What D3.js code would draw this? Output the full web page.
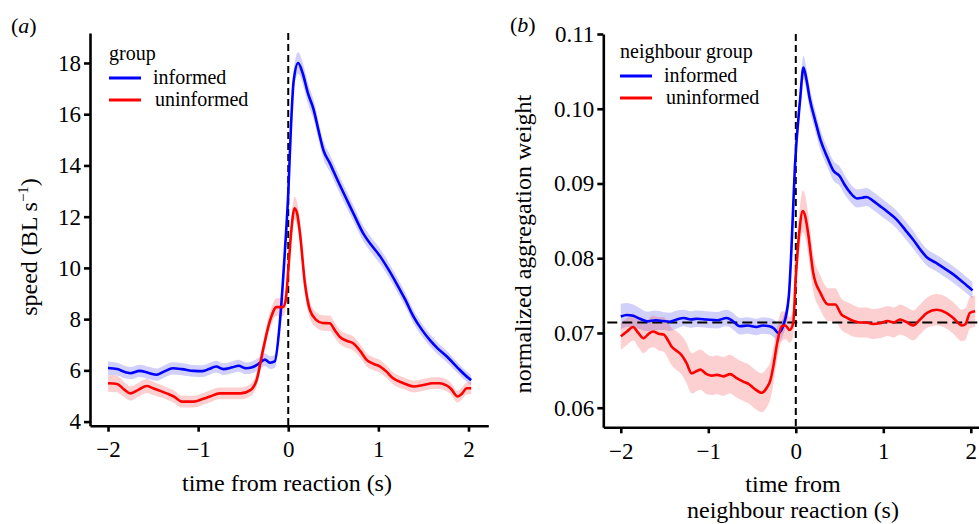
<!DOCTYPE html>
<html>
<head>
<meta charset="utf-8">
<script src="https://cdn.jsdelivr.net/npm/d3@7"></script>
<style>
  html, body { margin: 0; padding: 0; background: #fff; }
  svg { display: block; }
  text { font-family: "Liberation Serif", Tinos, "Times New Roman", Times, serif; fill: #000; }
</style>
</head>
<body>
<svg id="chart" width="979" height="524"></svg>
<script>
// ---------------- DATA ----------------
// Panel (a): speed (BL s^-1) vs time from reaction (s)
const speedInformedT = [-2.00,-1.90,-1.80,-1.75,-1.65,-1.55,-1.46,-1.38,-1.28,-1.18,-1.05,-0.95,-0.88,-0.80,-0.72,-0.62,-0.55,-0.47,-0.40,-0.33,-0.26,-0.20,-0.15,-0.09,-0.04,0.00,0.03,0.06,0.11,0.16,0.22,0.28,0.34,0.39,0.46,0.55,0.65,0.74,0.83,0.92,1.02,1.11,1.20,1.30,1.39,1.48,1.57,1.66,1.76,1.88,2.00,2.03];
const speedInformed  = [6.09,6.05,5.92,5.89,5.98,5.90,5.83,5.95,6.08,6.05,5.98,5.97,6.05,6.15,6.05,6.12,6.18,6.08,6.12,6.25,6.42,6.30,6.35,8.0,10.5,12.9,15.5,17.3,18.0,17.6,16.8,16.2,15.3,14.6,14.1,13.4,12.66,12.0,11.36,10.9,10.45,9.95,9.40,8.75,8.10,7.60,7.19,6.85,6.54,6.10,5.70,5.62];
const speedInformedSE = [0.26,0.25,0.24,0.24,0.24,0.24,0.24,0.24,0.24,0.24,0.23,0.23,0.23,0.23,0.23,0.23,0.23,0.23,0.23,0.24,0.25,0.25,0.26,0.3,0.35,0.38,0.4,0.42,0.42,0.42,0.4,0.38,0.36,0.35,0.34,0.33,0.32,0.31,0.3,0.3,0.3,0.29,0.28,0.27,0.26,0.25,0.24,0.23,0.22,0.21,0.2,0.2];

const speedUninformedT = [-2.00,-1.90,-1.82,-1.75,-1.66,-1.57,-1.50,-1.42,-1.35,-1.27,-1.18,-1.05,-0.95,-0.87,-0.76,-0.65,-0.53,-0.42,-0.35,-0.28,-0.20,-0.13,-0.06,-0.03,0.00,0.03,0.07,0.10,0.13,0.185,0.24,0.31,0.38,0.46,0.52,0.57,0.65,0.72,0.80,0.87,0.95,1.02,1.09,1.16,1.28,1.39,1.50,1.60,1.68,1.75,1.80,1.88,1.93,1.98,2.03];
const speedUninformed  = [5.50,5.47,5.25,5.10,5.25,5.39,5.30,5.20,5.10,4.98,4.78,4.78,4.88,4.98,5.10,5.10,5.10,5.23,5.63,6.80,7.97,8.47,8.47,8.7,9.9,11.3,12.33,12.1,11.36,9.40,8.36,7.97,7.85,7.84,7.55,7.32,7.15,7.06,6.75,6.41,6.25,6.15,5.95,5.70,5.50,5.37,5.43,5.50,5.50,5.42,5.30,4.98,5.10,5.30,5.30];
const speedUninformedSE = [0.33,0.32,0.3,0.28,0.27,0.27,0.26,0.25,0.24,0.24,0.23,0.23,0.23,0.23,0.23,0.23,0.23,0.24,0.26,0.3,0.33,0.35,0.35,0.36,0.38,0.42,0.45,0.45,0.42,0.38,0.33,0.3,0.3,0.3,0.29,0.28,0.28,0.27,0.26,0.26,0.25,0.25,0.24,0.24,0.23,0.23,0.23,0.23,0.23,0.23,0.23,0.23,0.23,0.23,0.23];

// Panel (b): normalized aggregation weight vs time from neighbour reaction (s)
const weightInformedT = [-2.00,-1.93,-1.86,-1.78,-1.70,-1.60,-1.52,-1.44,-1.36,-1.28,-1.20,-1.13,-1.02,-0.90,-0.79,-0.72,-0.64,-0.55,-0.45,-0.38,-0.30,-0.25,-0.20,-0.14,-0.08,-0.05,-0.01,0.05,0.087,0.12,0.16,0.22,0.28,0.36,0.43,0.50,0.56,0.62,0.70,0.76,0.81,0.88,0.96,1.05,1.15,1.25,1.34,1.42,1.50,1.60,1.69,1.78,1.88,1.95,2.02];
const weightInformed  = [0.0722,0.0724,0.0723,0.0719,0.07155,0.0717,0.0716,0.0715,0.0718,0.0720,0.0718,0.0719,0.0718,0.0717,0.0720,0.0716,0.0709,0.0710,0.0708,0.0710,0.0709,0.0706,0.0700,0.0711,0.0749,0.0812,0.0923,0.1013,0.1055,0.1040,0.1013,0.0985,0.0959,0.0935,0.0917,0.0910,0.0898,0.0888,0.0880,0.0881,0.0882,0.0877,0.0870,0.0862,0.0852,0.0838,0.0825,0.0812,0.0801,0.0794,0.0787,0.0780,0.0771,0.0764,0.0757];
const weightInformedSE = [0.0017,0.0016,0.0015,0.0014,0.0013,0.0013,0.0012,0.0012,0.0012,0.0011,0.0011,0.0011,0.0011,0.0011,0.0011,0.0011,0.0011,0.0011,0.0011,0.0011,0.0011,0.0012,0.0012,0.0012,0.0013,0.0014,0.0015,0.0015,0.0016,0.0015,0.0015,0.0014,0.0014,0.0013,0.0013,0.0013,0.0013,0.0012,0.0012,0.0012,0.0012,0.0012,0.0012,0.0012,0.0012,0.0012,0.0012,0.0011,0.0011,0.0011,0.0011,0.0011,0.0011,0.0011,0.0011];

const weightUninformedT = [-2.00,-1.93,-1.86,-1.80,-1.74,-1.68,-1.63,-1.57,-1.51,-1.46,-1.42,-1.36,-1.31,-1.25,-1.19,-1.09,-1.02,-0.96,-0.90,-0.83,-0.75,-0.68,-0.60,-0.53,-0.48,-0.39,-0.33,-0.29,-0.25,-0.22,-0.16,-0.12,-0.07,-0.03,0.00,0.04,0.08,0.11,0.14,0.20,0.28,0.37,0.45,0.52,0.59,0.66,0.73,0.81,0.88,0.96,1.05,1.12,1.19,1.26,1.34,1.42,1.50,1.61,1.72,1.80,1.90,1.94,1.99,2.05];
const weightUninformed  = [0.06955,0.0702,0.0708,0.0700,0.0693,0.0699,0.0702,0.0699,0.0698,0.0690,0.0682,0.0676,0.0671,0.0660,0.0646,0.0651,0.0645,0.0643,0.0644,0.0642,0.0645,0.0640,0.0635,0.0631,0.0626,0.0620,0.0627,0.0637,0.0660,0.0682,0.0709,0.0710,0.0704,0.0713,0.0775,0.0835,0.0863,0.0855,0.0834,0.0780,0.0754,0.0738,0.0738,0.0725,0.0720,0.0716,0.0714,0.0714,0.0712,0.0713,0.0716,0.0714,0.0718,0.0715,0.0710,0.0718,0.0727,0.0731,0.0727,0.0720,0.0710,0.0712,0.0727,0.0729];
const weightUninformedSE = [0.0018,0.0018,0.0018,0.0019,0.0020,0.0020,0.0021,0.0022,0.0023,0.0024,0.0025,0.0026,0.0026,0.0027,0.0027,0.0027,0.0027,0.0026,0.0026,0.0026,0.0026,0.0026,0.0026,0.0026,0.0026,0.0026,0.0026,0.0025,0.0024,0.0022,0.0020,0.0018,0.0017,0.0018,0.0022,0.0025,0.0028,0.0028,0.0027,0.0025,0.0023,0.0022,0.0022,0.0021,0.0021,0.0021,0.0020,0.0020,0.0020,0.0020,0.0020,0.0020,0.0020,0.0020,0.0020,0.0020,0.0020,0.0021,0.0021,0.0021,0.0021,0.0021,0.0021,0.0021];

const xTicks = [-2, -1, 0, 1, 2];
const speedTicks = [4, 6, 8, 10, 12, 14, 16, 18];
const weightTicks = [0.06, 0.07, 0.08, 0.09, 0.10, 0.11];
const weightReference = 0.0714;   // horizontal dashed reference line (panel b)
const groupLabels = ["informed", "uninformed"];
const groupColors = ["#0000ff", "#ff0000"];
const ribbonColors = ["rgba(40,40,235,0.22)", "rgba(240,40,40,0.22)"];

// ---------------- DRAWING ----------------
const FONT = '"Liberation Serif", Tinos, "Times New Roman", Times, serif';
const svg = d3.select("#chart");

function zip(t, v, se) { return t.map((d, i) => ({ t: d, v: v[i], se: se[i] })); }

function drawPanel(cfg) {
  const x = d3.scaleLinear().domain(cfg.xDomain).range(cfg.xRange);
  const y = d3.scaleLinear().domain(cfg.yDomain).range(cfg.yRange);
  const g = svg.append("g");

  // ribbons
  cfg.series.forEach((s, i) => {
    const area = d3.area().curve(d3.curveMonotoneX)
      .x(d => x(d.t)).y0(d => y(d.v - d.se)).y1(d => y(d.v + d.se));
    g.append("path").datum(s).attr("d", area).attr("fill", ribbonColors[i]).attr("stroke", "none");
  });

  // reference lines
  g.append("line")
    .attr("x1", x(0)).attr("x2", x(0))
    .attr("y1", cfg.yRange[1]).attr("y2", cfg.yRange[0])
    .attr("stroke", "#000").attr("stroke-width", 2).attr("stroke-dasharray", "7,4");
  if (cfg.hRef !== undefined) {
    g.append("line")
      .attr("x1", cfg.xRange[0] + 4).attr("x2", 979)
      .attr("y1", y(cfg.hRef)).attr("y2", y(cfg.hRef))
      .attr("stroke", "#000").attr("stroke-width", 2).attr("stroke-dasharray", "10,5");
  }

  // lines
  cfg.series.forEach((s, i) => {
    const line = d3.line().curve(d3.curveMonotoneX).x(d => x(d.t)).y(d => y(d.v));
    g.append("path").datum(s).attr("d", line).attr("fill", "none")
      .attr("stroke", groupColors[i]).attr("stroke-width", 2.6).attr("stroke-linejoin", "round");
  });

  // axes
  const xAxis = d3.axisBottom(x).tickValues(xTicks).tickSize(6).tickSizeOuter(0).tickPadding(9)
    .tickFormat(d3.format("d"));
  const gx = g.append("g").attr("transform", `translate(0,${cfg.yRange[0]})`).call(xAxis);
  const yAxis = d3.axisLeft(y).tickValues(cfg.yTicks).tickSize(6).tickSizeOuter(0).tickPadding(3)
    .tickFormat(cfg.yFormat);
  const gy = g.append("g").attr("transform", `translate(${cfg.xRange[0]},0)`).call(yAxis);
  [gx, gy].forEach(a => {
    a.attr("font-family", FONT).attr("font-size", 23);
    a.select(".domain").attr("stroke", "#000").attr("stroke-width", 2.6);
    a.selectAll(".tick line").attr("stroke", "#000").attr("stroke-width", 2.6);
    a.selectAll(".tick text").style("font-family", FONT).style("font-size", "23px").attr("fill", "#000");
  });

  // legend
  const L = cfg.legend;
  g.append("text").attr("x", L.x).attr("y", L.titleY).style("font-size", "20px").text(L.title);
  groupLabels.forEach((lab, i) => {
    const ly = L.firstY + i * 22;
    g.append("line").attr("x1", L.x).attr("x2", L.x + 32).attr("y1", ly).attr("y2", ly)
      .attr("stroke", groupColors[i]).attr("stroke-width", 3);
    g.append("text").attr("x", L.x + 44 + (i === 1 ? 2 : 0)).attr("y", ly + 6).style("font-size", "20px").text(lab);
  });

  // panel tag
  const tag = g.append("text").attr("x", cfg.tag.x).attr("y", cfg.tag.y).style("font-size", "22px");
  tag.append("tspan").text("(");
  tag.append("tspan").style("font-style", "italic").text(cfg.tag.letter);
  tag.append("tspan").text(")");
  return g;
}

drawPanel({
  xDomain: [-2.2, 2.22], xRange: [90, 488.3],
  yDomain: [3.84, 19.17], yRange: [425.7, 33],
  yTicks: speedTicks, yFormat: d3.format("d"),
  series: [zip(speedInformedT, speedInformed, speedInformedSE), zip(speedUninformedT, speedUninformed, speedUninformedSE)],
  legend: { x: 109, title: "group", titleY: 60, firstY: 78 },
  tag: { x: 11, y: 33, letter: "a" }
});

drawPanel({
  xDomain: [-2.2, 2.2], xRange: [603.3, 988.3],
  yDomain: [0.05738, 0.11], yRange: [427.3, 34],
  yTicks: weightTicks, yFormat: d3.format(".2f"),
  series: [zip(weightInformedT, weightInformed, weightInformedSE), zip(weightUninformedT, weightUninformed, weightUninformedSE)],
  hRef: weightReference,
  legend: { x: 620, title: "neighbour group", titleY: 58, firstY: 76 },
  tag: { x: 510, y: 32, letter: "b" }
});

// axis titles
const yA = svg.append("text").attr("transform", "translate(37,247) rotate(-90)")
  .attr("text-anchor", "middle").style("font-size", "24px");
yA.append("tspan").text("speed (BL s");
yA.append("tspan").attr("dy", "-9").style("font-size", "15px").text("−1");
yA.append("tspan").attr("dy", "9").text(")");

svg.append("text").attr("transform", "translate(531,244) rotate(-90)")
  .attr("text-anchor", "middle").style("font-size", "24px").text("normalized aggregation weight");

svg.append("text").attr("x", 287).attr("y", 491).attr("text-anchor", "middle")
  .style("font-size", "24px").text("time from reaction (s)");
svg.append("text").attr("x", 793).attr("y", 492).attr("text-anchor", "middle")
  .style("font-size", "24px").text("time from");
svg.append("text").attr("x", 793).attr("y", 518).attr("text-anchor", "middle")
  .style("font-size", "24px").text("neighbour reaction (s)");
</script>
</body>
</html>
